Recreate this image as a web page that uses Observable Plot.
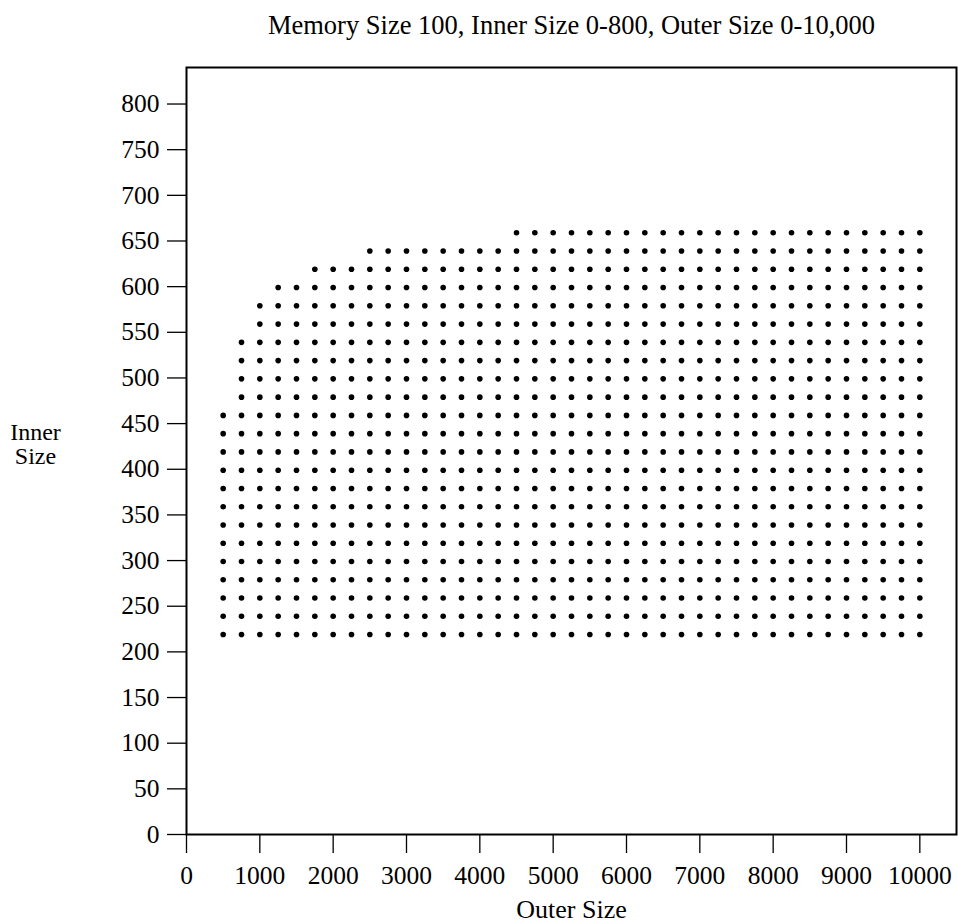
<!DOCTYPE html>
<html>
<head>
<meta charset="utf-8">
<script src="https://cdn.jsdelivr.net/npm/d3@7"></script>
<script src="https://cdn.jsdelivr.net/npm/@observablehq/plot@0.6"></script>
<style>
  html, body { margin: 0; padding: 0; background: #fff; }
  #chart svg { display: block; }
</style>
</head>
<body>
<div id="chart"></div>
<script>
const titleText = "Memory Size 100, Inner Size 0-800, Outer Size 0-10,000";
const xLabel = "Outer Size";
const yLabel = "Inner\nSize";

const xTicks = [0, 1000, 2000, 3000, 4000, 5000, 6000, 7000, 8000, 9000, 10000];
const yTicks = [0, 50, 100, 150, 200, 250, 300, 350, 400, 450, 500, 550, 600, 650, 700, 750, 800];

// Outer sizes of the dot columns
const outerSizes = [500, 750, 1000, 1250, 1500, 1750, 2000, 2250, 2500, 2750, 3000, 3250, 3500,
  3750, 4000, 4250, 4500, 4750, 5000, 5250, 5500, 5750, 6000, 6250, 6500, 6750, 7000, 7250,
  7500, 7750, 8000, 8250, 8500, 8750, 9000, 9250, 9500, 9750, 10000];

// Inner sizes of the dot rows
const innerSizes = [219, 239, 259, 279, 299, 319, 339, 359, 379, 399, 419, 439, 459, 479, 499,
  519, 539, 559, 579, 599, 619, 639, 659];

// Largest inner size drawn in each column (same order as outerSizes)
const maxInner = [459, 539, 579, 599, 599, 619, 619, 619, 639, 639, 639, 639, 639, 639, 639, 639,
  659, 659, 659, 659, 659, 659, 659, 659, 659, 659, 659, 659, 659, 659, 659, 659, 659, 659, 659,
  659, 659, 659, 659];

const points = [];
outerSizes.forEach((o, i) => {
  innerSizes.forEach(v => { if (v <= maxInner[i]) points.push({outer: o, inner: v}); });
});

const font = "'Liberation Serif', 'Times New Roman', serif";

const chart = Plot.plot({
  width: 958,
  height: 924,
  marginLeft: 186,
  marginRight: 2,
  marginTop: 67,
  marginBottom: 90,
  style: {fontFamily: font, color: "#000", background: "#fff", overflow: "visible"},
  x: {domain: [0, 10500]},
  y: {domain: [0, 840]},
  marks: [
    Plot.axisX({ticks: xTicks, tickFormat: d => String(d), tickSize: 19, tickPadding: 12,
      fontSize: 25.5, stroke: "#000", strokeWidth: 1.3, label: null}),
    Plot.axisY({ticks: yTicks, tickFormat: d => String(d), tickSize: 19, tickPadding: 8,
      fontSize: 25.5, stroke: "#000", strokeWidth: 1.3, label: null}),
    Plot.dot(points, {x: "outer", y: "inner", r: 2.8, fill: "#000", stroke: null}),
    Plot.frame({stroke: "#000", strokeWidth: 2}),
    Plot.text([titleText], {frameAnchor: "top", lineAnchor: "bottom", dy: -34, fontSize: 26.5,
      fill: "#000", text: d => d}),
    Plot.text([xLabel], {frameAnchor: "bottom", lineAnchor: "bottom", dy: 83, fontSize: 26,
      fill: "#000", text: d => d}),
    Plot.text([yLabel], {frameAnchor: "left", lineAnchor: "bottom", textAnchor: "middle",
      dx: -151, dy: 13, fontSize: 24, lineHeight: 1, fill: "#000", text: d => d})
  ]
});

document.getElementById("chart").appendChild(chart);
</script>
</body>
</html>
